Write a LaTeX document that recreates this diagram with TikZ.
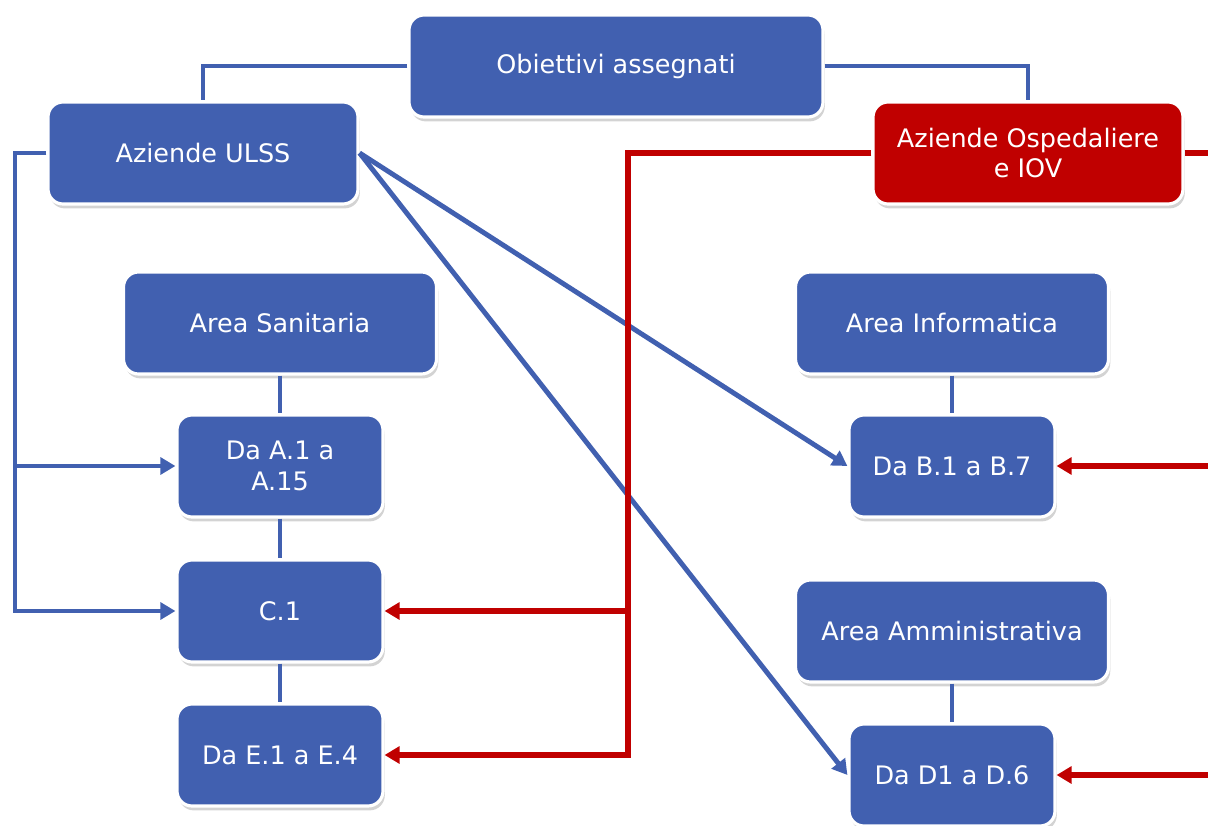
\documentclass[tikz,border=0pt]{standalone}
\usepackage{fontspec}
\setmainfont{DejaVu Sans}
\usetikzlibrary{arrows.meta,shadows}
\definecolor{boxblue}{RGB}{65,96,176}
\definecolor{boxred}{RGB}{192,0,0}
\tikzset{
  box/.style={draw=white,line width=1.8pt,fill=boxblue,rounded corners=0.3cm,
    text=white,align=center,font=\fontsize{14.5}{17.5}\selectfont,
    minimum height=2.04cm,
    drop shadow={opacity=0.35,shadow xshift=1pt,shadow yshift=-2.5pt}},
  redbox/.style={box,fill=boxred},
  blueline/.style={draw=boxblue,line width=2.8pt},
  redline/.style={draw=boxred,line width=3pt},
  tip/.style={-{Triangle[length=8.5pt,width=9.5pt]}}
}
\begin{document}
\begin{tikzpicture}
    \useasboundingbox (0,0) rectangle (24.16,16.5);

    \node[box,minimum width=8.28cm] (obj) at (12.32,15.18) {Obiettivi assegnati};
    \node[box,minimum width=6.2cm] (ulss) at (4.06,13.44) {Aziende ULSS};
    \node[redbox,minimum width=6.2cm] (osp) at (20.56,13.44) {Aziende Ospedaliere\\e IOV};

    \node[box,minimum width=6.26cm] (sanit) at (5.6,10.04) {Area Sanitaria};
    \node[box,minimum width=4.12cm] (a1) at (5.6,7.18) {Da A.1 a\\A.15};
    \node[box,minimum width=4.12cm] (c1) at (5.6,4.28) {C.1};
    \node[box,minimum width=4.12cm] (e1) at (5.6,1.4) {Da E.1 a E.4};

    \node[box,minimum width=6.26cm] (inform) at (19.04,10.04) {Area Informatica};
    \node[box,minimum width=4.12cm] (b1) at (19.04,7.18) {Da B.1 a B.7};
    \node[box,minimum width=6.26cm] (ammin) at (19.04,3.88) {Area Amministrativa};
    \node[box,minimum width=4.12cm] (d1) at (19.04,1.0) {Da D1 a D.6};

    \coordinate (busL) at (0.3,4.28);
    \coordinate (busR) at (12.56,1.4);
    \coordinate (edgeR) at (24.5,0);

    \draw[blueline] (obj.west) -| (ulss.north);
    \draw[blueline] (obj.east) -| (osp.north);
    \foreach \a/\b in {sanit/a1,a1/c1,c1/e1,inform/b1,ammin/d1}{
      \draw[blueline] (\a.south) -- (\b.north);
    }
    \draw[blueline,tip] (ulss.west) -| (busL) -- (c1.west);
    \draw[blueline,tip] (busL |- a1.west) -- (a1.west);
    \draw[blueline,tip] (ulss.east) -- (b1.west);
    \draw[blueline,tip] (ulss.east) -- (d1.west);

    \draw[redline,tip] (osp.west) -| (busR) -- (e1.east);
    \draw[redline,tip] (busR |- c1.east) -- (c1.east);
    \draw[redline] (osp.east) -- (osp.east -| edgeR);
    \draw[redline,tip] (b1.east -| edgeR) -- (b1.east);
    \draw[redline,tip] (d1.east -| edgeR) -- (d1.east);
  \end{tikzpicture}
\end{document}
